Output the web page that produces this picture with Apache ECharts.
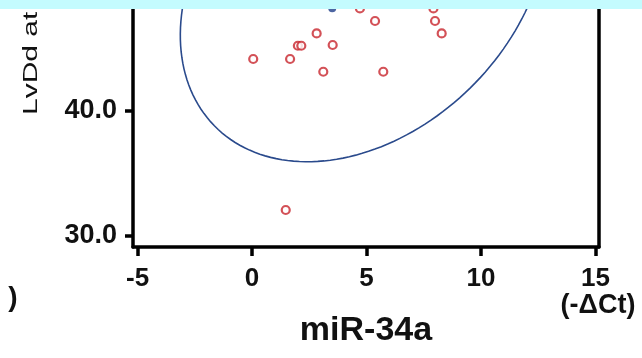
<!DOCTYPE html>
<html>
<head>
<meta charset="utf-8">
<script src="https://cdn.jsdelivr.net/npm/echarts@6/dist/echarts.min.js"></script>
<style>
  html, body { margin: 0; padding: 0; background: #fff; }
  #chart { width: 642px; height: 358px; }
</style>
</head>
<body>
<div id="chart"></div>
<script>
// points
var mirX = [0.05, 1.66, 2.0, 2.15, 2.82, 3.52, 3.11, 4.71, 5.37, 5.73, 7.92, 7.99, 8.28, 1.47];
var lvddY = [44.14, 44.14, 45.2, 45.2, 46.19, 45.26, 43.12, 48.19, 47.18, 43.12, 48.19, 47.18, 46.19, 32.06];

// blue (mean) point
var meanPoint = [3.5, 48.2];

// ellipse: centre (data units), semi-axes (data units), tilt in degrees
var ellipseCenter = [4.88, 50.54];
var ellipseAxes = [14.9, 7.48];
var ellipseTilt = 77.1;

var xTicks = [-5, 0, 5, 10, 15];
var yTicks = [30, 40];

var FONT = 'Liberation Sans, Arial, sans-serif';

var chart = echarts.init(document.getElementById('chart'), null, { renderer: 'canvas' });

var points = mirX.map(function (x, i) { return [x, lvddY[i]]; });

// outline of the ellipse, drawn through the axes' scales
function renderEllipse(params, api) {
    var cx = api.value(0), cy = api.value(1);
    var a = api.value(2), b = api.value(3);
    var phi = api.value(4) * Math.PI / 180;
    var pts = [];
    for (var k = 0; k <= 180; k++) {
        var t = k / 180 * Math.PI * 2;
        var x = cx + a * Math.cos(t) * Math.cos(phi) - b * Math.sin(t) * Math.sin(phi);
        var y = cy + a * Math.cos(t) * Math.sin(phi) + b * Math.sin(t) * Math.cos(phi);
        pts.push(api.coord([x, y]));
    }
    return {
        type: 'polyline',
        shape: { points: pts },
        style: { stroke: '#2a4a8c', lineWidth: 1.6, fill: null }
    };
}

var option = {
    animation: false,
    backgroundColor: '#fff',
    grid: { left: 133, right: 43, top: 0, bottom: 111 },
    xAxis: {
        type: 'value',
        min: -5.2,
        max: 15.15,
        name: 'miR-34a',
        nameLocation: 'middle',
        nameGap: 67,
        nameTextStyle: { fontFamily: FONT, fontSize: 34, fontWeight: 'bold', color: '#111' },
        axisLine: { show: true, onZero: false, lineStyle: { color: '#000', width: 3.5 } },
        axisTick: { show: true, length: 9, customValues: xTicks, lineStyle: { color: '#000', width: 3.5 } },
        axisLabel: {
            customValues: xTicks, margin: 19,
            fontFamily: FONT, fontSize: 26, fontWeight: 'bold', color: '#111'
        },
        splitLine: { show: false }
    },
    yAxis: [{
        type: 'value',
        min: 29.1,
        max: 48.86,
        axisLine: { show: true, onZero: false, lineStyle: { color: '#000', width: 3.5 } },
        axisTick: { show: true, length: 8, customValues: yTicks, lineStyle: { color: '#000', width: 3.5 } },
        axisLabel: {
            customValues: yTicks, margin: 16,
            formatter: function (v) { return v.toFixed(1); },
            fontFamily: FONT, fontSize: 27, fontWeight: 'bold', color: '#111'
        },
        splitLine: { show: false }
    }, {
        type: 'value',
        position: 'right',
        min: 29.1,
        max: 48.86,
        axisLine: { show: true, onZero: false, lineStyle: { color: '#000', width: 3.5 } },
        axisTick: { show: false },
        axisLabel: { show: false },
        splitLine: { show: false }
    }],
    series: [{
        type: 'custom',
        renderItem: renderEllipse,
        data: [[ellipseCenter[0], ellipseCenter[1], ellipseAxes[0], ellipseAxes[1], ellipseTilt]],
        encode: { x: 0, y: 1 },
        silent: true,
        z: 1
    }, {
        type: 'scatter',
        data: points,
        symbol: 'circle',
        symbolSize: 8,
        itemStyle: { color: '#fff', borderColor: '#c8262d', borderWidth: 2.2 },
        z: 3
    }, {
        type: 'scatter',
        data: [meanPoint],
        symbol: 'circle',
        symbolSize: 8,
        itemStyle: { color: '#1f3f8a' },
        z: 3
    }],
    graphic: [{
        type: 'text',
        x: 31,
        y: 115,
        rotation: Math.PI / 2,
        scaleX: 1.5,
        style: {
            text: 'LvDd at',
            fontFamily: FONT, fontSize: 20, fill: '#111',
            align: 'left', verticalAlign: 'middle'
        }
    }, {
        type: 'text',
        x: 598,
        y: 306,
        style: {
            text: '(-\u0394Ct)',
            fontFamily: FONT, fontSize: 27, fontWeight: 'bold', fill: '#111',
            align: 'center', verticalAlign: 'middle'
        }
    }, {
        type: 'text',
        x: 13,
        y: 298,
        style: {
            text: ')',
            fontFamily: FONT, fontSize: 28, fontWeight: 'bold', fill: '#111',
            align: 'center', verticalAlign: 'middle'
        }
    }, {
        type: 'rect',
        z: 100,
        shape: { x: 0, y: 0, width: 642, height: 9 },
        style: { fill: '#c4fbfe' }
    }]
};

chart.setOption(option);
window.addEventListener('resize', chart.resize);
</script>
</body>
</html>
